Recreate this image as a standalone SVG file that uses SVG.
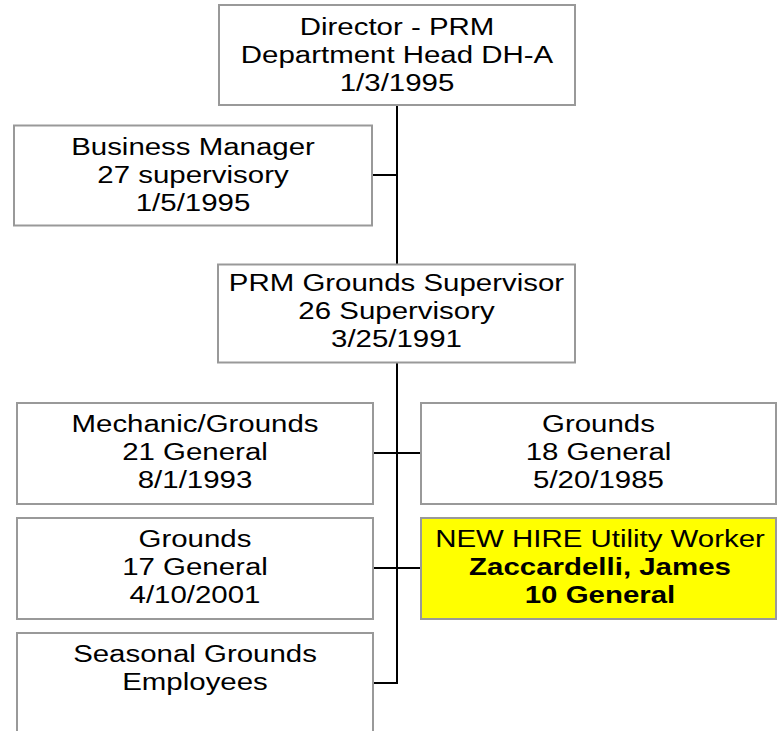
<svg xmlns="http://www.w3.org/2000/svg" width="779" height="731" viewBox="0 0 779 731">
<style>
.box{fill:#ffffff;stroke:#999999;stroke-width:2}
.hl{fill:#ffff00;stroke:#999999;stroke-width:2}
.t{font-family:"Liberation Sans",Arial,sans-serif;font-size:23px;fill:#000000;text-anchor:middle}
.b{font-weight:bold}
.c{fill:none;stroke:#000000;stroke-width:2}
</style>
<rect width="779" height="731" fill="#ffffff"/>
<g id="connectors">
<line class="c" x1="397" y1="105" x2="397" y2="265"/>
<line class="c" x1="372" y1="175" x2="397" y2="175"/>
<polyline class="c" points="397,362 397,683 373,683"/>
<line class="c" x1="373" y1="453" x2="421" y2="453"/>
<line class="c" x1="373" y1="568" x2="421" y2="568"/>
</g>
<g id="director">
<rect class="box" x="219" y="5" width="356" height="100"/>
<g transform="translate(397,0) scale(1.28,1)">
<text class="t" x="0" y="35">Director - PRM</text>
<text class="t" x="0" y="63">Department Head DH-A</text>
<text class="t" x="0" y="91">1/3/1995</text>
</g>
</g>
<g id="business-manager">
<rect class="box" x="14" y="125.5" width="358" height="100"/>
<g transform="translate(193,0) scale(1.28,1)">
<text class="t" x="0" y="155">Business Manager</text>
<text class="t" x="0" y="183">27 supervisory</text>
<text class="t" x="0" y="211">1/5/1995</text>
</g>
</g>
<g id="grounds-supervisor">
<rect class="box" x="218" y="264.5" width="357" height="98"/>
<g transform="translate(396.5,0) scale(1.28,1)">
<text class="t" x="0" y="291">PRM Grounds Supervisor</text>
<text class="t" x="0" y="319">26 Supervisory</text>
<text class="t" x="0" y="347">3/25/1991</text>
</g>
</g>
<g id="mechanic">
<rect class="box" x="17" y="403" width="356" height="101"/>
<g transform="translate(195,0) scale(1.28,1)">
<text class="t" x="0" y="432">Mechanic/Grounds</text>
<text class="t" x="0" y="460">21 General</text>
<text class="t" x="0" y="488">8/1/1993</text>
</g>
</g>
<g id="grounds-18">
<rect class="box" x="421" y="403" width="355" height="101"/>
<g transform="translate(598.5,0) scale(1.28,1)">
<text class="t" x="0" y="432">Grounds</text>
<text class="t" x="0" y="460">18 General</text>
<text class="t" x="0" y="488">5/20/1985</text>
</g>
</g>
<g id="grounds-17">
<rect class="box" x="17" y="518" width="356" height="101"/>
<g transform="translate(195,0) scale(1.28,1)">
<text class="t" x="0" y="547">Grounds</text>
<text class="t" x="0" y="575">17 General</text>
<text class="t" x="0" y="603">4/10/2001</text>
</g>
</g>
<g id="new-hire">
<rect class="hl" x="421" y="518" width="355" height="101"/>
<g transform="translate(600,0) scale(1.28,1)">
<text class="t" x="0" y="547">NEW HIRE Utility Worker</text>
<text class="t b" x="0" y="575">Zaccardelli, James</text>
<text class="t b" x="0" y="603">10 General</text>
</g>
</g>
<g id="seasonal">
<rect class="box" x="17" y="633" width="356" height="110"/>
<g transform="translate(195,0) scale(1.28,1)">
<text class="t" x="0" y="662">Seasonal Grounds</text>
<text class="t" x="0" y="690">Employees</text>
</g>
</g>
</svg>
